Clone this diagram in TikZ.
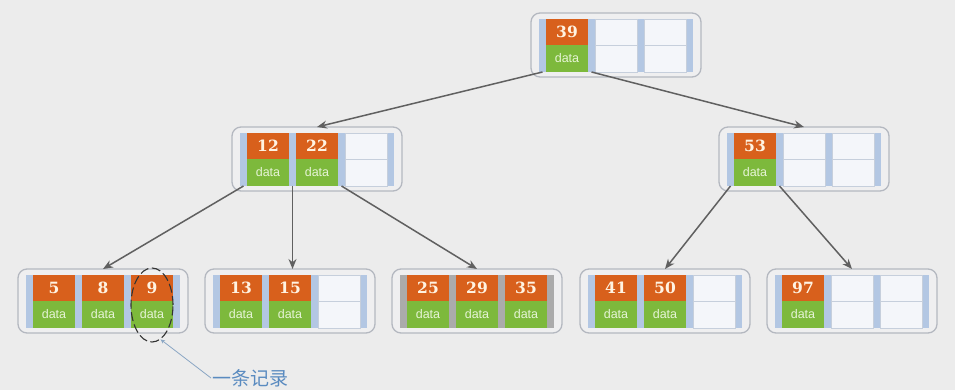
\documentclass[tikz,border=0pt]{standalone}
\usepackage{fontspec}
\setmainfont{Liberation Sans}
\newfontfamily\numfont{DejaVu Serif}
\newfontfamily\cjkfont{Noto Sans CJK SC}
\usetikzlibrary{arrows.meta,shapes.geometric}
\definecolor{bgc}{HTML}{ECECEC}
\definecolor{boxfill}{HTML}{EFEFF0}
\definecolor{boxline}{HTML}{B4B8C0}
\definecolor{keyor}{HTML}{D8601C}
\definecolor{datagr}{HTML}{7DB93C}
\definecolor{barblue}{HTML}{B3C7E3}
\definecolor{bargray}{HTML}{ABABAB}
\definecolor{emptyfill}{HTML}{F4F6FA}
\definecolor{emptyline}{HTML}{C6CFDC}
\definecolor{keytext}{HTML}{FFF3E2}
\definecolor{datatext}{HTML}{E6F4D6}
\definecolor{linkc}{HTML}{606060}
\definecolor{notec}{HTML}{5A8BC0}
\definecolor{notel}{HTML}{8AA6C4}
\tikzset{
  boxnode/.style={draw=boxline, line width=1.3pt, fill=boxfill, rounded corners=9pt,
    minimum width=170pt, minimum height=64pt, inner sep=0pt, outer sep=0pt},
  keybox/.style={fill=keyor, minimum width=42pt, minimum height=26pt, inner sep=0pt,
    outer sep=0pt, text=keytext, font=\numfont\bfseries\fontsize{15.5}{15.5}\selectfont},
  databox/.style={fill=datagr, minimum width=42pt, minimum height=27pt, inner sep=0pt,
    outer sep=0pt, text=datatext, font=\fontsize{12.5}{12.5}\selectfont},
  emptycell/.style={fill=emptyfill, draw=emptyline, line width=0.6pt, minimum width=42pt,
    minimum height=53pt, inner sep=0pt, outer sep=0pt},
  cellline/.style={draw=emptyline, line width=0.8pt},
  link/.style={draw=linkc, line width=1.5pt, -{Stealth[length=10pt,width=8pt]}},
  recmark/.style={draw=black!80, line width=1.1pt, dash pattern=on 9pt off 3.5pt,
    ellipse, minimum width=42pt, minimum height=74pt, inner sep=0pt},
  notelink/.style={draw=notel, line width=0.8pt, -{Stealth[length=4.5pt,width=4pt]}},
  notetext/.style={text=notec, font=\cjkfont\fontsize{19}{19}\selectfont, inner sep=1pt}
}
\newcommand\keycell[4]{%
  \if\relax\detokenize{#4}\relax
    \node[emptycell, anchor=north west] (#1) at (#2,#3) {};
    \draw[cellline] (#1.west) -- (#1.east);
  \else
    \node[keybox, anchor=north west] (#1) at (#2,#3) {#4};
    \node[databox, anchor=north] (#1-d) at (#1.south) {data};
  \fi}
\newcommand\bpnode[7]{%
  \node[boxnode, anchor=north west] (#1) at (#2,#3) {};
  \foreach \i in {0,1,2,3}{%
    \fill[#7] ({#2+8+49*\i},{#3+6}) rectangle ({#2+15+49*\i},{#3+59});
    \coordinate (#1-p\i) at ({#2+11.5+49*\i},{#3+59});
  }
  \keycell{#1-k1}{#2+15}{#3+6}{#4}
  \keycell{#1-k2}{#2+64}{#3+6}{#5}
  \keycell{#1-k3}{#2+113}{#3+6}{#6}
}
\begin{document}
\begin{tikzpicture}[x=1pt,y=-1pt]
  \fill[bgc] (0,0) rectangle (955,390);
  \useasboundingbox (0,0) rectangle (955,390);
  % nodes
  \bpnode{root}{531}{13}{39}{}{}{barblue}
  \bpnode{na}{232}{127}{12}{22}{}{barblue}
  \bpnode{nb}{719}{127}{53}{}{}{barblue}
  \bpnode{la}{18}{269}{5}{8}{9}{barblue}
  \bpnode{lb}{205}{269}{13}{15}{}{barblue}
  \bpnode{lc}{392}{269}{25}{29}{35}{bargray}
  \bpnode{ld}{580}{269}{41}{50}{}{barblue}
  \bpnode{le}{767}{269}{97}{}{}{barblue}
  % connectors
  \draw[link] (root-p0) -- (na.north);
  \draw[link] (root-p1) -- (nb.north);
  \draw[link] (na-p0) -- (la.north);
  \draw[link] (na-p1) -- (lb.north -| na-p1);
  \draw[link] (na-p2) -- (lc.north);
  \draw[link] (nb-p0) -- (ld.north);
  \draw[link] (nb-p1) -- (le.north);
  % annotation
  \node[recmark] (rec) at (152,305) {};
  \node[notetext, anchor=west] (note) at (211,378) {一条记录};
  \draw[notelink] (note.west) -- (rec.-76);
\end{tikzpicture}
\end{document}
